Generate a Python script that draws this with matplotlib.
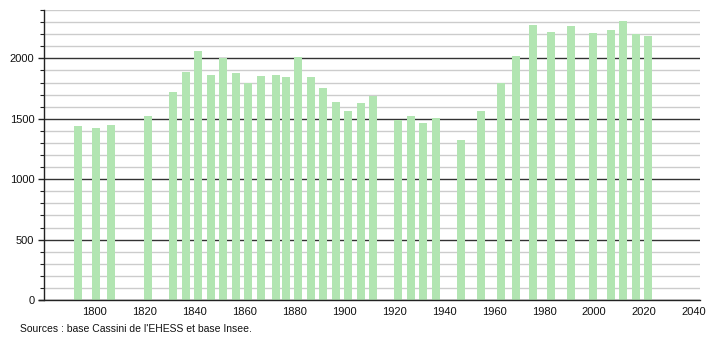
import matplotlib
matplotlib.use("Agg")
import matplotlib.pyplot as plt
from matplotlib.ticker import MultipleLocator

plt.rcParams['font.family'] = ['Liberation Sans', 'DejaVu Sans']

years = [1793, 1800, 1806, 1821, 1831, 1836, 1841, 1846, 1851, 1856, 1861, 1866,
         1872, 1876, 1881, 1886, 1891, 1896, 1901, 1906, 1911, 1921, 1926, 1931,
         1936, 1946, 1954, 1962, 1968, 1975, 1982, 1990, 1999, 2006, 2011, 2016, 2021]
population = [1438, 1421, 1446, 1521, 1720, 1889, 2061, 1861, 2003, 1878, 1798, 1853,
              1861, 1845, 2011, 1845, 1753, 1637, 1562, 1629, 1687, 1488, 1521, 1463,
              1504, 1321, 1562, 1798, 2019, 2277, 2219, 2269, 2211, 2235, 2310, 2202, 2186]
xticks = list(range(1800, 2041, 20))
source = "Sources : base Cassini de l'EHESS et base Insee."

fig = plt.figure(figsize=(7.1, 3.4), dpi=100)
ax = fig.add_axes([44/710, 1 - 300/340, (700 - 44)/710, 290/340])

ax.set_xlim(1780, 2042.3)
ax.set_ylim(0, 2400)

# grid
ax.yaxis.set_major_locator(MultipleLocator(500))
ax.yaxis.set_minor_locator(MultipleLocator(100))
ax.grid(which='minor', axis='y', color='#cccccc', linewidth=1.0)
ax.grid(which='major', axis='y', color='#333333', linewidth=1.0)
ax.set_axisbelow(True)

ax.bar([y + 0.6 for y in years], population, width=3.2, color='#b2e5b2', edgecolor='none', zorder=3)

for s in ['top', 'right']:
    ax.spines[s].set_visible(False)
ax.spines['left'].set_color('#222222')
ax.spines['bottom'].set_color('#222222')
ax.spines['left'].set_linewidth(1.0)
ax.spines['bottom'].set_linewidth(1.0)
ax.spines['bottom'].set_zorder(4)
ax.spines['bottom'].set_bounds(1778, 2042.3)

ax.set_xticks(xticks)
ax.set_xticklabels([str(t) for t in xticks])
ax.tick_params(axis='x', which='both', length=0, labelsize=8, pad=5, colors='#111111')
ax.tick_params(axis='y', which='major', length=4, width=1, labelsize=8, pad=3, colors='#222222')
ax.tick_params(axis='y', which='minor', length=3, width=0.8, color='#222222')
for lbl in ax.get_yticklabels() + ax.get_xticklabels():
    lbl.set_color('#111111')

fig.text(20/710, 1 - 329/340, source, fontsize=7.5, color='#111111', va='center', ha='left')

fig.savefig('out.png', dpi=100, facecolor='white')
